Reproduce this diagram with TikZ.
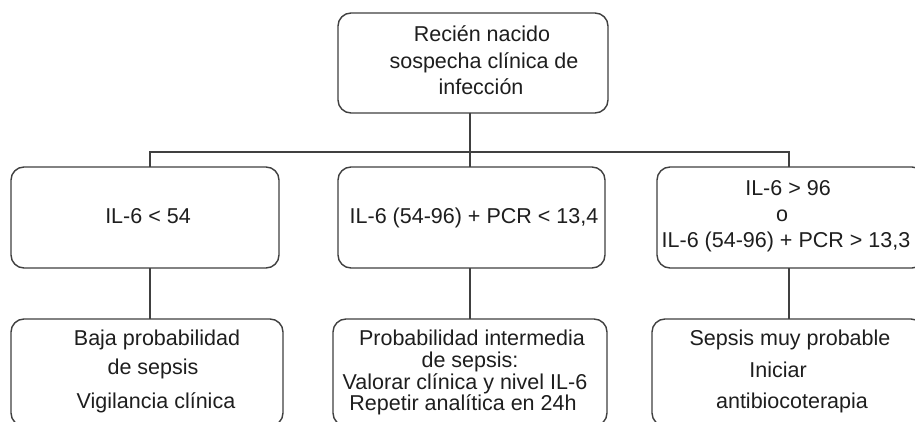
\documentclass[tikz,border=0pt]{standalone}
\usepackage{fontspec}
\setmainfont{Liberation Sans}
\definecolor{linec}{HTML}{404040}
\definecolor{textc}{HTML}{1E1E1E}
\begin{document}
\begin{tikzpicture}[x=1pt,y=-1pt,
  box/.style={draw=linec,line width=1.4pt,rounded corners=13pt},
  txt/.style={anchor=base,inner sep=0pt,text=textc,font=\fontsize{21.5}{26}\selectfont},
  conn/.style={draw=linec,line width=1.4pt}]
\clip (0,0) rectangle (915,422);
\fill[white] (0,0) rectangle (915,422);
% boxes
\draw[box] (338,13) rectangle (608,113);
\draw[box] (11,167) rectangle (279,268);
\draw[box] (338,167) rectangle (605,268);
\draw[box] (657,167) rectangle (925,268);
\draw[box] (11,319) rectangle (283,426);
\draw[box] (333,319) rectangle (607,426);
\draw[box] (652,319) rectangle (924,426);
% box anchor coordinates
\coordinate (topB) at (470,113);
\coordinate (bus) at (470,152);
\coordinate (lT) at (150,167);
\coordinate (mT) at (470,167);
\coordinate (rT) at (789,167);
\coordinate (lB) at (150,268);
\coordinate (mB) at (470,268);
\coordinate (rB) at (789,268);
\coordinate (blT) at (150,319);
\coordinate (bmT) at (470,319);
\coordinate (brT) at (789,319);
% connectors
\draw[conn] (topB) -- (bus);
\draw[conn] (lT) -- (lT |- bus) -- (rT |- bus) -- (rT);
\draw[conn] (mT) -- (bus);
\draw[conn] (lB) -- (blT);
\draw[conn] (mB) -- (bmT);
\draw[conn] (rB) -- (brT);
% texts
\node[txt] (t1) at (482,42) {Recién nacido};
\node[txt] (t2) at (484,69) {sospecha clínica de};
\node[txt] (t3) at (481,95) {infección};
\node[txt] (l1) at (148,223) {IL-6 < 54};
\node[txt] (m1) at (474,223) {IL-6 (54-96) + PCR < 13,4};
\node[txt] (r1) at (788,196) {IL-6 > 96};
\node[txt] (r2) at (782,222) {o};
\node[txt] (r3) at (786,247) {IL-6 (54-96) + PCR > 13,3};
\node[txt] (bl1) at (157,345) {Baja probabilidad};
\node[txt] (bl2) at (153,374) {de sepsis};
\node[txt] (bl3) at (156,408) {Vigilancia clínica};
\node[txt] (bm1) at (472,345) {Probabilidad intermedia};
\node[txt] (bm2) at (470,367) {de sepsis:};
\node[txt] (bm3) at (465,389) {Valorar clínica y nivel IL-6};
\node[txt] (bm4) at (463,410) {Repetir analítica en 24h};
\node[txt] (br1) at (790,345) {Sepsis muy probable};
\node[txt] (br2) at (778,377) {Iniciar};
\node[txt] (br3) at (792,408) {antibiocoterapia};
\end{tikzpicture}
\end{document}
